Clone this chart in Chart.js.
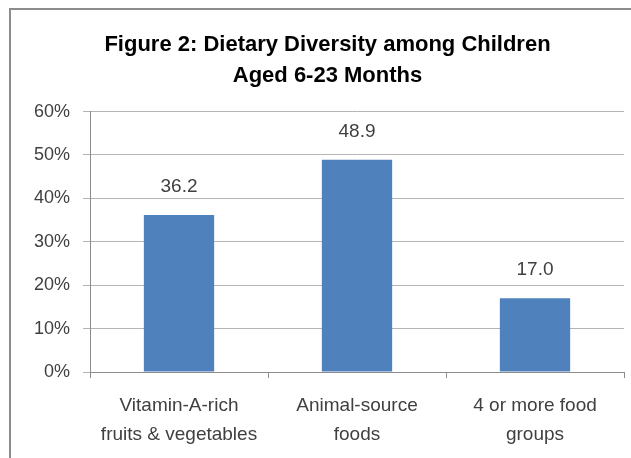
<!DOCTYPE html>
<html>
<head>
  <title>Figure 2: Dietary Diversity among Children</title>
  <script src="https://cdn.jsdelivr.net/npm/chart.js"></script>
  <style>
    html, body { margin: 0; padding: 0; overflow: hidden; background: #fff; }
    #frame { position: absolute; left: 9px; top: 8px; width: 700px; height: 600px; border: 2px solid #8c8c8c; }
    #chart { position: absolute; left: 0; top: 0; }
  </style>
</head>
<body>
  <div id="frame"></div>
  <canvas id="chart" width="655" height="458"></canvas>

  <script>
    const categories = [
      ['Vitamin-A-rich', 'fruits & vegetables'],
      ['Animal-source', 'foods'],
      ['4 or more food', 'groups']
    ];
    const values = [36.2, 48.9, 17.0];
    const yTicks = [0, 10, 20, 30, 40, 50, 60];

    const fontName = '"Liberation Sans", Arial, sans-serif';

    // value printed above each bar
    const valueLabels = {
      id: 'valueLabels',
      afterDatasetsDraw(chart) {
        const ctx = chart.ctx;
        const meta = chart.getDatasetMeta(0);
        ctx.save();
        ctx.font = '19px ' + fontName;
        ctx.fillStyle = '#404040';
        ctx.textAlign = 'center';
        ctx.textBaseline = 'middle';
        meta.data.forEach((bar, i) => {
          ctx.fillText(values[i].toFixed(1), bar.x, bar.y - 28);
        });
        ctx.restore();
      }
    };

    new Chart(document.getElementById('chart'), {
      type: 'bar',
      data: {
        labels: categories,
        datasets: [{
          data: values,
          backgroundColor: '#4f81bd',
          categoryPercentage: 1,
          barPercentage: 0.395
        }]
      },
      options: {
        responsive: false,
        animation: false,
        layout: { padding: 0 },
        plugins: {
          legend: { display: false },
          tooltip: { enabled: false },
          title: {
            display: true,
            text: ['Figure 2: Dietary Diversity among Children', 'Aged 6-23 Months'],
            color: '#000',
            font: { family: fontName, size: 22, weight: 'bold', lineHeight: 1.4 },
            padding: { top: 30, bottom: 20 }
          }
        },
        scales: {
          x: {
            grid: { display: true, drawOnChartArea: false, tickLength: 6, color: '#8c8c8c' },
            border: { color: '#8c8c8c' },
            ticks: { color: '#404040', font: { family: fontName, size: 19, lineHeight: 1.5 }, padding: 14, maxRotation: 0 },
            afterFit(scale) { scale.height = 86; }
          },
          y: {
            min: 0,
            max: 60,
            afterBuildTicks(scale) { scale.ticks = yTicks.map(v => ({ value: v })); },
            grid: { color: '#b4b4b4', tickLength: 7 },
            border: { color: '#8c8c8c' },
            ticks: {
              color: '#404040',
              font: { family: fontName, size: 18 },
              padding: 13,
              callback: v => v + '%'
            },
            afterFit(scale) { scale.width = 90; }
          },
          // empty space on the right so the title centres over the whole frame
          spacer: {
            position: 'right',
            grid: { display: false },
            border: { display: false },
            ticks: { display: false },
            afterFit(scale) { scale.width = 31; }
          }
        }
      },
      plugins: [valueLabels]
    });
  </script>
</body>
</html>
